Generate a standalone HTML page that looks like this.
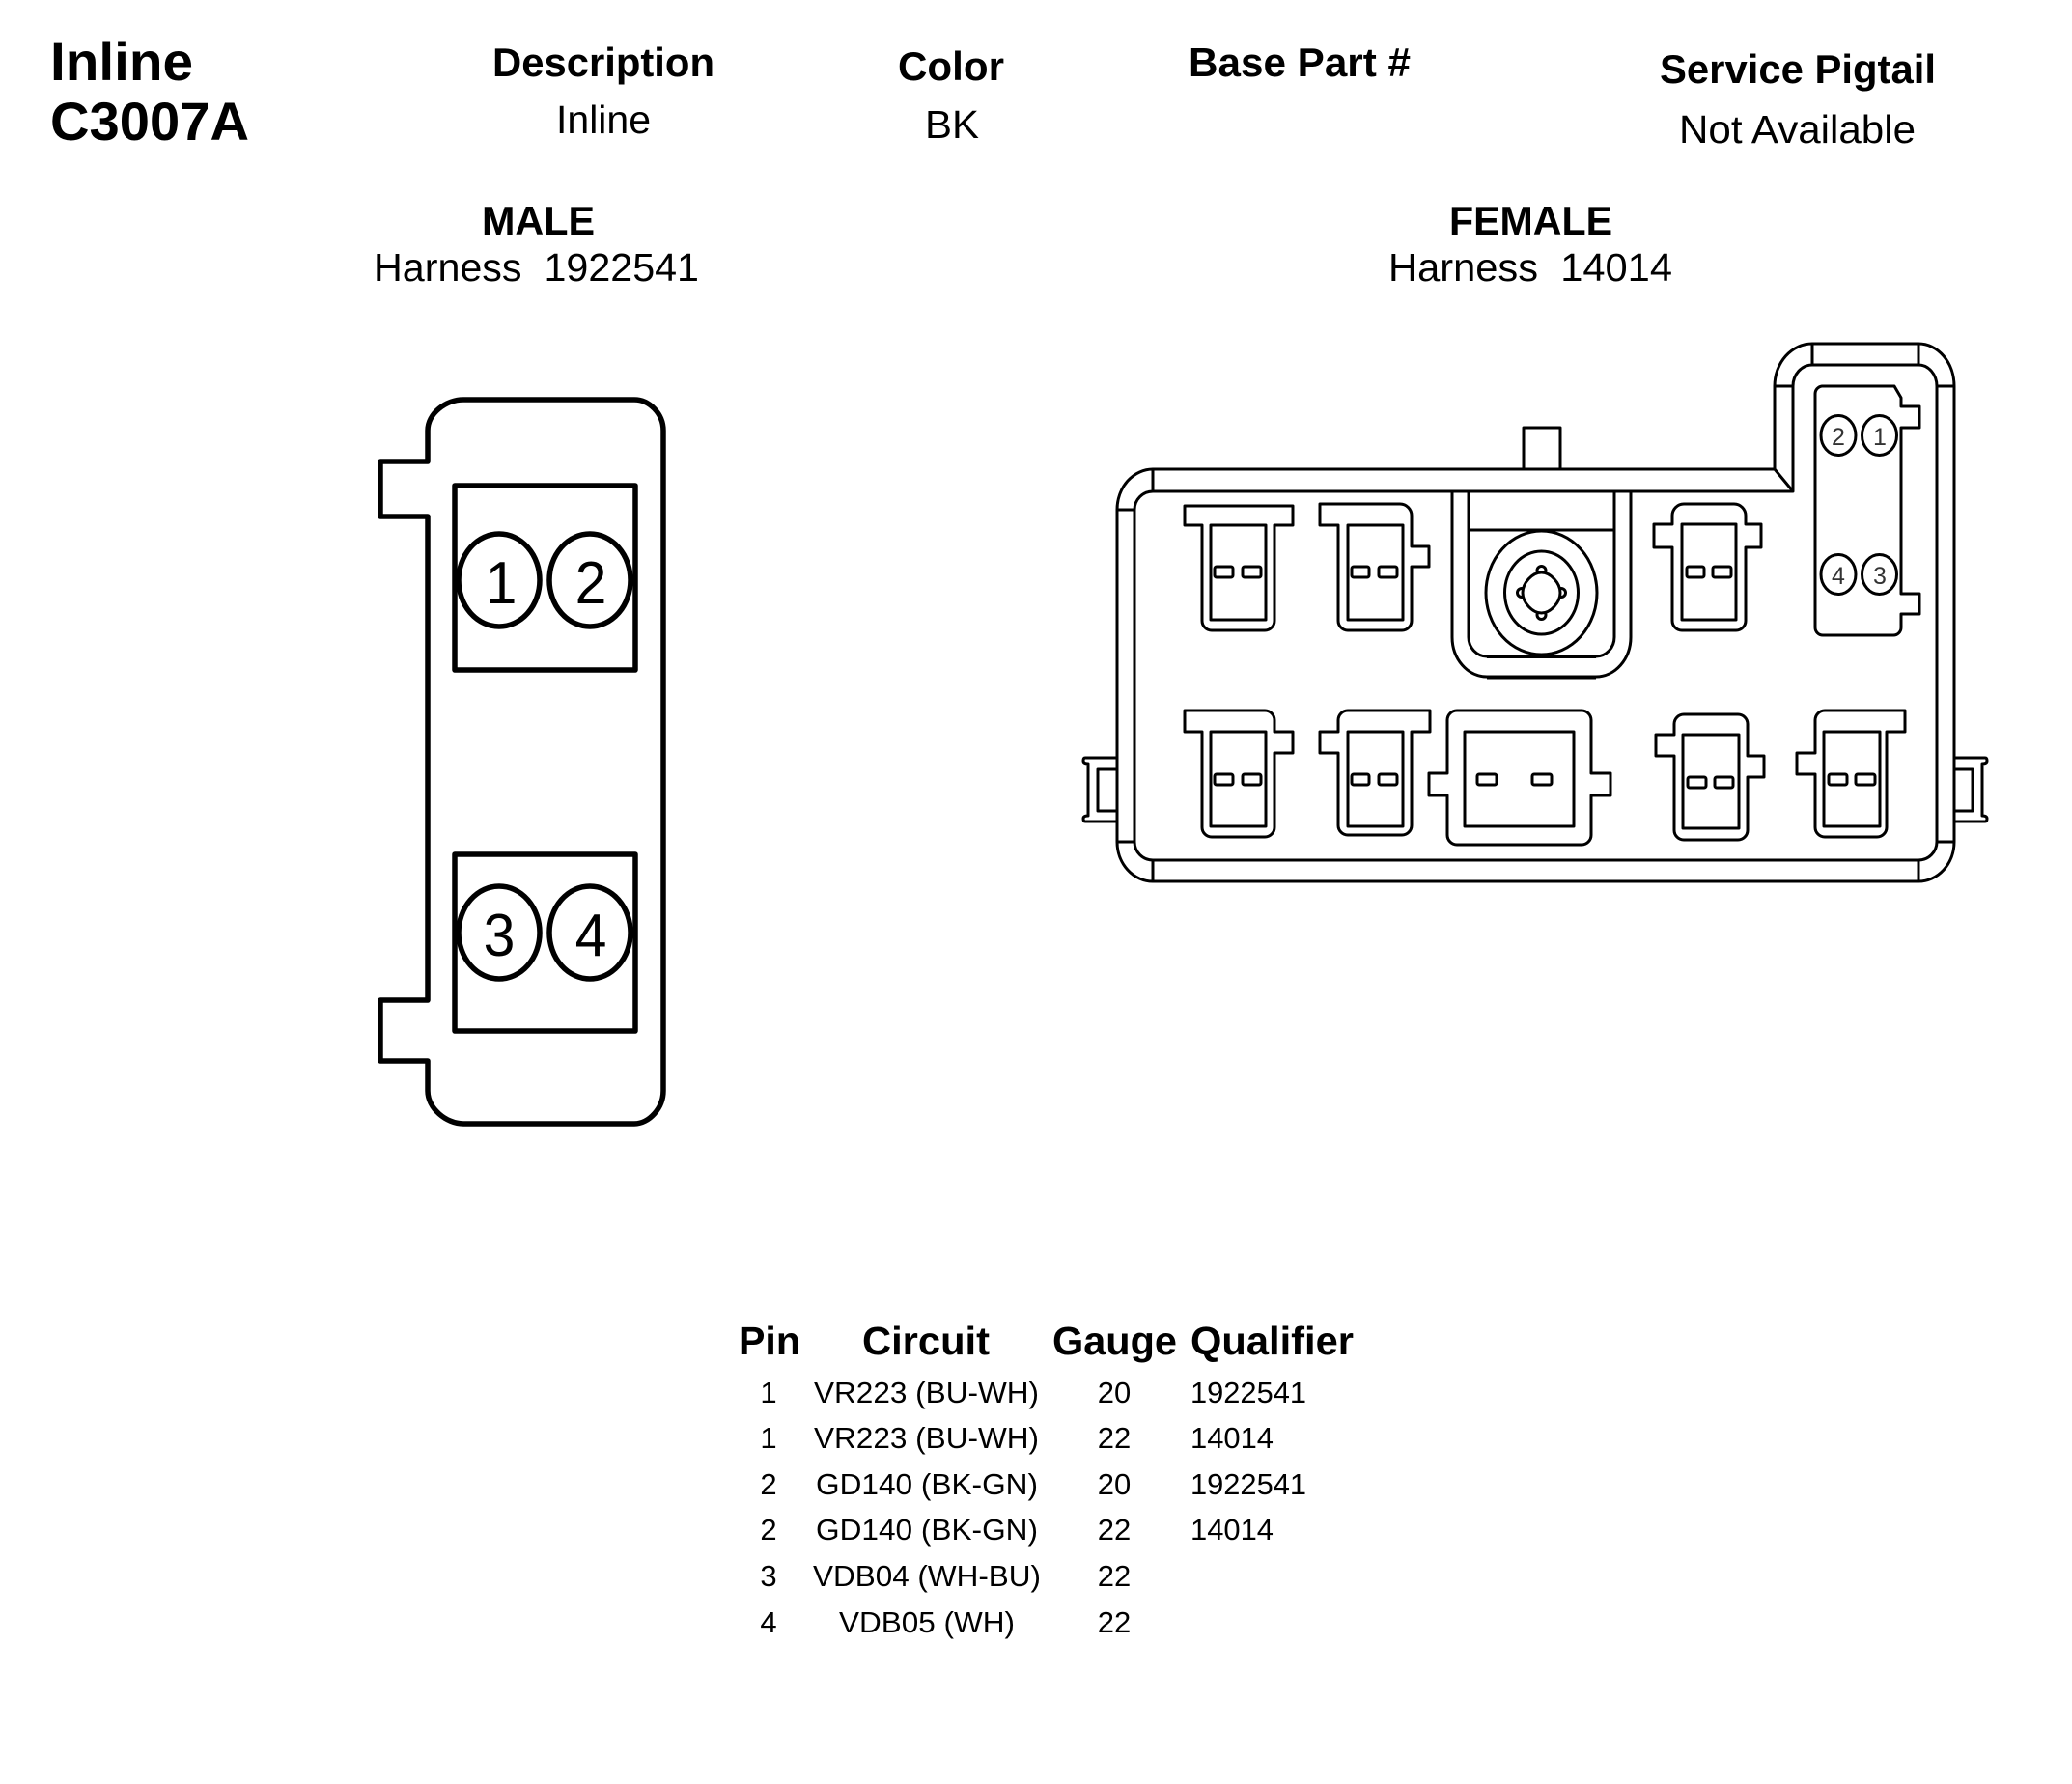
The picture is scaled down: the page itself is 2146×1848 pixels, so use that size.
<!DOCTYPE html>
<html><head><meta charset="utf-8"><style>
html,body{margin:0;padding:0;background:#fff}
svg{display:block}
text{font-family:"Liberation Sans",Arial,sans-serif;fill:#000}
.b{font-weight:bold}
.s{fill:none;stroke:#000;stroke-width:3;stroke-linejoin:round}
.m{fill:none;stroke:#000;stroke-width:5.5;stroke-linejoin:round}
.bl{fill:#fff;stroke:#000;stroke-width:3}
.d text{fill:#333}
</style></head><body>
<svg width="2146" height="1848" viewBox="0 0 2146 1848" xmlns="http://www.w3.org/2000/svg">
<rect width="2146" height="1848" fill="#fff"/>
<!-- header -->
<g class="b">
<text x="52" y="83" font-size="56" textLength="148" lengthAdjust="spacingAndGlyphs">Inline</text>
<text x="52" y="145" font-size="56" textLength="206" lengthAdjust="spacingAndGlyphs">C3007A</text>
<text x="510" y="79" font-size="42" textLength="230" lengthAdjust="spacingAndGlyphs">Description</text>
<text x="930" y="83" font-size="42" textLength="110" lengthAdjust="spacingAndGlyphs">Color</text>
<text x="1231" y="79" font-size="42" textLength="230" lengthAdjust="spacingAndGlyphs">Base Part #</text>
<text x="1719" y="86" font-size="42" textLength="286" lengthAdjust="spacingAndGlyphs">Service Pigtail</text>
<text x="499" y="243" font-size="42" textLength="117" lengthAdjust="spacingAndGlyphs">MALE</text>
<text x="1501" y="243" font-size="42" textLength="169" lengthAdjust="spacingAndGlyphs">FEMALE</text>
</g>
<text x="576" y="138" font-size="41" textLength="98" lengthAdjust="spacingAndGlyphs">Inline</text>
<text x="958" y="143" font-size="41" textLength="56" lengthAdjust="spacingAndGlyphs">BK</text>
<text x="1739" y="148" font-size="41" textLength="245" lengthAdjust="spacingAndGlyphs">Not Available</text>
<text x="387" y="291" font-size="41" textLength="337" lengthAdjust="spacingAndGlyphs" xml:space="preserve">Harness  1922541</text>
<text x="1438" y="291" font-size="41" textLength="294" lengthAdjust="spacingAndGlyphs" xml:space="preserve">Harness  14014</text>

<!-- male connector -->
<path class="m" d="M443 446 C443 428 462 414 480 414 H657 C672 414 687 428 687 446 V1130 C687 1148 672 1164 657 1164 H480 C462 1164 443 1148 443 1130 V1099 H394 V1036 H443 V535 H394 V478 H443 Z"/>
<rect class="m" x="471" y="503" width="187" height="191"/>
<rect class="m" x="471" y="885" width="187" height="183"/>
<ellipse class="m" cx="517" cy="601" rx="42" ry="48"/>
<ellipse class="m" cx="611" cy="601" rx="42" ry="48"/>
<ellipse class="m" cx="517" cy="966" rx="42" ry="48"/>
<ellipse class="m" cx="611" cy="966" rx="42" ry="48"/>
<g font-size="62" text-anchor="middle">
<text transform="translate(519 625) scale(.95 1)">1</text>
<text transform="translate(612 625) scale(.95 1)">2</text>
<text transform="translate(517 990) scale(.95 1)">3</text>
<text transform="translate(612 990) scale(.95 1)">4</text>
</g>

<!-- female housing -->
<g class="s">
<path d="M1157 528 A37 42 0 0 1 1194 486 H1838 V400 A39 44 0 0 1 1877 356 H1987 A37 44 0 0 1 2024 400 V872 A37 41 0 0 1 1987 913 H1194 A37 41 0 0 1 1157 872 Z"/>
<path d="M1175 528 A19 19 0 0 1 1194 509 H1857 V400 A20 22 0 0 1 1877 378 H1987 A19 22 0 0 1 2006 400 V872 A19 19 0 0 1 1987 891 H1194 A19 19 0 0 1 1175 872 Z"/>
<path d="M1157 528 H1175 M1194 486 V509 M1838 486 L1857 509 M1838 400 H1857 M1877 356 V378 M1987 356 V378 M2006 400 H2024 M1157 872 H1175 M1194 891 V913 M2006 872 H2024 M1987 891 V913"/>
<!-- stud -->
<path d="M1578 486 V443 H1616 V486"/>
<!-- side clips -->
<path d="M1157 785 H1124 Q1122 785 1122 788 Q1122 791 1127 791 V845 Q1122 845 1122 848 Q1122 851 1124 851 H1157"/>
<path d="M1157 797 H1137 V840 H1157"/>
<path d="M2024 785 H2056 Q2058 785 2058 788 Q2058 791 2053 791 V845 Q2058 845 2058 848 Q2058 851 2056 851 H2024"/>
<path d="M2024 797 H2043 V840 H2024"/>
<!-- T1 -->
<path d="M1227 524 H1339 V544 H1320 V643 A10 10 0 0 1 1310 653 H1255 A10 10 0 0 1 1245 643 V544 H1227 Z"/>
<rect x="1254" y="544" width="57" height="98"/>
<!-- T2 -->
<path d="M1367 522 H1450 A12 12 0 0 1 1462 534 V566 H1480 V587 H1462 V643 A10 10 0 0 1 1452 653 H1396 A10 10 0 0 1 1386 643 V544 H1367 Z"/>
<rect x="1396" y="544" width="57" height="98"/>
<!-- centre -->
<path d="M1504 509 V660 A36 41 0 0 0 1540 701 H1653 A36 41 0 0 0 1689 660 V509"/>
<path d="M1521 509 V660 A19 20 0 0 0 1540 680 H1653 A19 20 0 0 0 1672 660 V509"/>
<path d="M1540 701.5 H1653 M1540 680 H1653" stroke-width="4"/>
<path d="M1521 549 H1672"/>
<ellipse cx="1596.5" cy="614" rx="57.5" ry="64"/>
<ellipse cx="1596.5" cy="614" rx="38" ry="43"/>
<g fill="#fff">
<circle cx="1596.5" cy="591" r="4.5"/><circle cx="1596.5" cy="637" r="4.5"/>
<circle cx="1576" cy="614" r="4.5"/><circle cx="1617" cy="614" r="4.5"/>
<path d="M1596.5 593 C1606 593 1616 604 1616 614 C1616 624 1606 635 1596.5 635 C1587 635 1577 624 1577 614 C1577 604 1587 593 1596.5 593 Z"/>
</g>
<!-- T3 -->
<path d="M1744 522 H1796 A12 12 0 0 1 1808 534 V543 H1824 V567 H1808 V643 A10 10 0 0 1 1798 653 H1742 A10 10 0 0 1 1732 643 V567 H1713 V543 H1732 V534 A12 12 0 0 1 1744 522 Z"/>
<rect x="1742" y="543" width="56" height="99"/>
<!-- panel -->
<path d="M1887 400 H1962 L1969 412 V421 H1988 V443 H1969 V615 H1988 V636 H1969 V650 A8 8 0 0 1 1961 658 H1888 A8 8 0 0 1 1880 650 V408 A8 8 0 0 1 1887 400 Z"/>
<ellipse cx="1904" cy="451" rx="18" ry="20.5"/>
<ellipse cx="1946.5" cy="451" rx="18" ry="20.5"/>
<ellipse cx="1904" cy="595" rx="18" ry="20.5"/>
<ellipse cx="1946.5" cy="595" rx="18" ry="20.5"/>
<!-- B1 -->
<path d="M1227 736 H1310 A10 10 0 0 1 1320 746 V758 H1339 V780 H1320 V857 A10 10 0 0 1 1310 867 H1255 A10 10 0 0 1 1245 857 V758 H1227 Z"/>
<rect x="1254" y="758" width="57" height="98"/>
<!-- B2 -->
<path d="M1396 736 H1481 V758 H1462 V855 A10 10 0 0 1 1452 865 H1396 A10 10 0 0 1 1386 855 V780 H1367 V758 H1386 V746 A10 10 0 0 1 1396 736 Z"/>
<rect x="1396" y="758" width="57" height="98"/>
<!-- B3 -->
<path d="M1509 736 H1638 A10 10 0 0 1 1648 746 V801 H1668 V824 H1648 V865 A10 10 0 0 1 1638 875 H1509 A10 10 0 0 1 1499 865 V824 H1480 V801 H1499 V746 A10 10 0 0 1 1509 736 Z"/>
<rect x="1517" y="758" width="113" height="98"/>
<!-- B4 -->
<path d="M1744 740 H1800 A10 10 0 0 1 1810 750 V783 H1827 V805 H1810 V860 A10 10 0 0 1 1800 870 H1744 A10 10 0 0 1 1734 860 V783 H1715 V761 H1734 V750 A10 10 0 0 1 1744 740 Z"/>
<rect x="1743" y="761" width="58" height="97"/>
<!-- B5 -->
<path d="M1890 736 H1973 V758 H1954 V857 A10 10 0 0 1 1944 867 H1890 A10 10 0 0 1 1880 857 V802 H1861 V780 H1880 V746 A10 10 0 0 1 1890 736 Z"/>
<rect x="1889" y="758" width="58" height="98"/>
</g>
<!-- blades -->
<g class="bl">
<rect x="1258" y="587" width="19" height="11" rx="2"/><rect x="1287" y="587" width="19" height="11" rx="2"/>
<rect x="1400" y="587" width="18" height="11" rx="2"/><rect x="1428" y="587" width="19" height="11" rx="2"/>
<rect x="1747" y="587" width="18" height="11" rx="2"/><rect x="1774" y="587" width="19" height="11" rx="2"/>
<rect x="1258" y="802" width="19" height="11" rx="2"/><rect x="1287" y="802" width="19" height="11" rx="2"/>
<rect x="1400" y="802" width="18" height="11" rx="2"/><rect x="1428" y="802" width="19" height="11" rx="2"/>
<rect x="1530" y="802" width="20" height="11" rx="2"/><rect x="1587" y="802" width="20" height="11" rx="2"/>
<rect x="1748" y="805" width="19" height="11" rx="2"/><rect x="1776" y="805" width="19" height="11" rx="2"/>
<rect x="1894" y="802" width="19" height="11" rx="2"/><rect x="1922" y="802" width="20" height="11" rx="2"/>
</g>
<g class="d" font-size="25" text-anchor="middle">
<text transform="translate(1904 461)">2</text>
<text transform="translate(1947 461)">1</text>
<text transform="translate(1904 605)">4</text>
<text transform="translate(1947 605)">3</text>
</g>

<!-- table -->
<g class="b" font-size="41">
<text x="765" y="1403" textLength="64" lengthAdjust="spacingAndGlyphs">Pin</text>
<text x="893" y="1403" textLength="132" lengthAdjust="spacingAndGlyphs">Circuit</text>
<text x="1090" y="1403" textLength="129" lengthAdjust="spacingAndGlyphs">Gauge</text>
<text x="1233" y="1403" textLength="169" lengthAdjust="spacingAndGlyphs">Qualifier</text>
</g>
<g font-size="31">
<g text-anchor="middle">
<text x="796" y="1453">1</text><text x="796" y="1500">1</text><text x="796" y="1548">2</text><text x="796" y="1595">2</text><text x="796" y="1643">3</text><text x="796" y="1691">4</text>
<text x="1154" y="1453">20</text><text x="1154" y="1500">22</text><text x="1154" y="1548">20</text><text x="1154" y="1595">22</text><text x="1154" y="1643">22</text><text x="1154" y="1691">22</text>
</g>
<text x="843" y="1453" textLength="233" lengthAdjust="spacingAndGlyphs">VR223 (BU-WH)</text>
<text x="843" y="1500" textLength="233" lengthAdjust="spacingAndGlyphs">VR223 (BU-WH)</text>
<text x="845" y="1548" textLength="230" lengthAdjust="spacingAndGlyphs">GD140 (BK-GN)</text>
<text x="845" y="1595" textLength="230" lengthAdjust="spacingAndGlyphs">GD140 (BK-GN)</text>
<text x="842" y="1643" textLength="236" lengthAdjust="spacingAndGlyphs">VDB04 (WH-BU)</text>
<text x="869" y="1691" textLength="182" lengthAdjust="spacingAndGlyphs">VDB05 (WH)</text>
<text x="1233" y="1453" textLength="120" lengthAdjust="spacingAndGlyphs">1922541</text>
<text x="1233" y="1500" textLength="86" lengthAdjust="spacingAndGlyphs">14014</text>
<text x="1233" y="1548" textLength="120" lengthAdjust="spacingAndGlyphs">1922541</text>
<text x="1233" y="1595" textLength="86" lengthAdjust="spacingAndGlyphs">14014</text>
</g>
</svg>
</body></html>
